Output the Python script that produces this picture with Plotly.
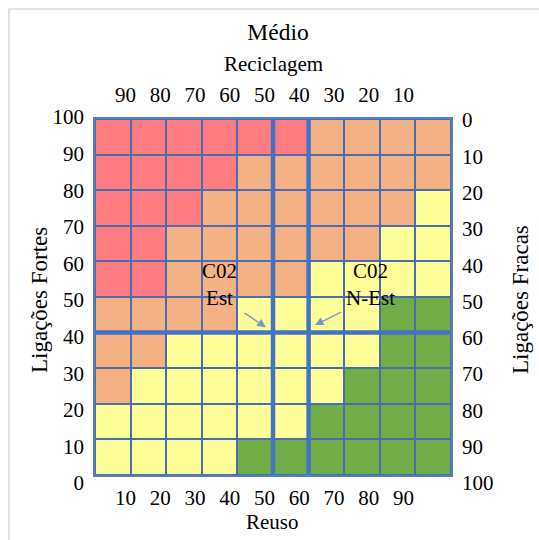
import plotly.graph_objects as go

# --- dados -----------------------------------------------------------------
# faixas de 10 em 10 (centros das células)
reuso_centros = [5, 15, 25, 35, 45, 55, 65, 75, 85, 95]
fortes_centros = [5, 15, 25, 35, 45, 55, 65, 75, 85, 95]

# rótulos dos eixos
reuso_ticks = [10, 20, 30, 40, 50, 60, 70, 80, 90]
reciclagem_ticks = [90, 80, 70, 60, 50, 40, 30, 20, 10]
fortes_ticks = [0, 10, 20, 30, 40, 50, 60, 70, 80, 90, 100]
fracas_ticks = [100, 90, 80, 70, 60, 50, 40, 30, 20, 10, 0]

# classes: V = vermelho, L = laranja, A = amarelo, G = verde
# linhas de cima (90-100) para baixo (0-10)
classes = [
    "VVVVVVLLLL",
    "VVVVLLLLLL",
    "VVVLLLLLLA",
    "VVLLLLLLAA",
    "VVLLLLAAAA",
    "LLLLAAAAGG",
    "LLAAAAAAGG",
    "LAAAAAAGGG",
    "AAAAAAGGGG",
    "AAAAGGGGGG",
]

# limites destacados
limites_reuso = [50, 60]
limites_fortes = [40]

# cenários marcados
cenarios = ["C02<br>Est", "C02<br>N-Est"]
cenario_pontas = [(48.0, 41.5), (61.8, 42.1)]
cenario_caudas = [(41.6, 45.8), (69.6, 46.0)]
cenario_textos = [(35.1, 53.5), (77.5, 53.5)]

# --- estilo ----------------------------------------------------------------
codigo = {"V": 0, "L": 1, "A": 2, "G": 3}
cores = ["#FF7C80", "#F4B183", "#FFFF99", "#70AD47"]
COR_GRADE = "#4A6CB3"
FONTE = "Liberation Serif, Times New Roman, serif"
W, H = 539, 540
# área de papel: rótulos verticais ocupam 117..483 px
ML, MR, MT, MB = 95, 88, 117, 57
PW, PH = W - ML - MR, H - MT - MB
# grade principal: 119..475 px na vertical
GRADE_TOPO, GRADE_BASE = 119, 475
dom_y = [(H - MB - GRADE_BASE) / PH, (H - MB - GRADE_TOPO) / PH]


def px(xp):
    return (xp - ML) / PW


def py(yp):
    return (H - MB - yp) / PH


z = [[codigo[c] for c in linha] for linha in reversed(classes)]
escala = [[i / (len(cores) - 1), c] for i, c in enumerate(cores)]

fig = go.Figure()
fig.add_trace(go.Heatmap(
    x=reuso_centros, y=fortes_centros, z=z,
    zmin=0, zmax=3, colorscale=escala, showscale=False,
    xgap=2, ygap=2, hoverinfo="skip",
))

# eixos de rótulos (traços invisíveis para ativá-los)
invis = dict(mode="markers", marker=dict(opacity=0), hoverinfo="skip", showlegend=False)
fig.add_trace(go.Scatter(x=reuso_ticks, y=[50] * len(reuso_ticks), xaxis="x2", yaxis="y", **invis))
fig.add_trace(go.Scatter(x=reciclagem_ticks, y=[50] * len(reciclagem_ticks), xaxis="x3", yaxis="y", **invis))
fig.add_trace(go.Scatter(x=[50] * len(fortes_ticks), y=fortes_ticks, xaxis="x", yaxis="y2", **invis))
fig.add_trace(go.Scatter(x=[50] * len(fracas_ticks), y=fracas_ticks, xaxis="x", yaxis="y3", **invis))

# fundo da grade (aparece nos espaços entre as células)
fig.add_shape(type="rect", xref="x domain", yref="y domain", x0=0, x1=1, y0=0, y1=1,
              line=dict(width=0), fillcolor=COR_GRADE, layer="below")

for xv in limites_reuso:
    fig.add_shape(type="line", xref="x", yref="y", x0=xv, x1=xv, y0=0, y1=100,
                  line=dict(color="#4472C4", width=4.5))
for yv in limites_fortes:
    fig.add_shape(type="line", xref="x", yref="y", x0=0, x1=100, y0=yv, y1=yv,
                  line=dict(color="#4472C4", width=4.5))

# moldura externa
fig.add_shape(type="rect", xref="paper", yref="paper",
              x0=px(9), x1=px(560), y0=py(560), y1=py(9),
              line=dict(color="#C3CCDA", width=1.2), fillcolor="rgba(0,0,0,0)", layer="below")

for texto, (tx, ty) in zip(cenarios, cenario_textos):
    fig.add_annotation(x=tx, y=ty, xref="x", yref="y", text=texto, showarrow=False,
                       font=dict(family=FONTE, size=21, color="black"))
for (hx, hy), (cx, cy) in zip(cenario_pontas, cenario_caudas):
    fig.add_annotation(x=hx, y=hy, ax=cx, ay=cy, xref="x", yref="y", axref="x", ayref="y",
                       text="", showarrow=True, arrowhead=2, arrowsize=1.3,
                       arrowwidth=1.3, arrowcolor="#6F95D8")

tfont = dict(family=FONTE, size=21, color="black")
vfont = dict(family=FONTE, size=23, color="black")
fig.add_annotation(text="Reciclagem", xref="paper", yref="paper", x=px(273), y=py(64),
                   showarrow=False, font=tfont, xanchor="center", yanchor="middle")
fig.add_annotation(text="Reuso", xref="paper", yref="paper", x=px(272), y=py(522),
                   showarrow=False, font=tfont, xanchor="center", yanchor="middle")
fig.add_annotation(text="Ligações Fortes", xref="paper", yref="paper", x=px(39), y=py(300),
                   showarrow=False, font=vfont, textangle=-90, xanchor="center", yanchor="middle")
fig.add_annotation(text="Ligações Fracas", xref="paper", yref="paper", x=px(520), y=py(300),
                   showarrow=False, font=vfont, textangle=-90, xanchor="center", yanchor="middle")

base = dict(showgrid=False, zeroline=False, fixedrange=True)
rot = dict(base, showline=False, ticks="", tickfont=tfont, tickmode="array")

fig.update_layout(
    width=W, height=H,
    margin=dict(l=ML, r=MR, t=MT, b=MB, pad=0),
    paper_bgcolor="white", plot_bgcolor="rgba(0,0,0,0)",
    showlegend=False,
    title=dict(text="Médio", x=px(278), xref="paper", xanchor="center",
               y=1 - 32 / H, yanchor="middle", font=dict(family=FONTE, size=23.5, color="black")),
    xaxis=dict(base, range=[0, 100], showticklabels=False, showline=True, mirror=True,
               linecolor="#5A7BBE", linewidth=1.5, anchor="y"),
    yaxis=dict(base, range=[0, 100], domain=dom_y, showticklabels=False, showline=True,
               mirror=True, linecolor="#5A7BBE", linewidth=1.5),
    xaxis2=dict(rot, overlaying="x", side="bottom", anchor="y", range=[1.22, 103.66],
                tickvals=reuso_ticks, ticktext=[str(v) for v in reuso_ticks], ticklabelstandoff=8),
    xaxis3=dict(rot, overlaying="x", side="top", anchor="y", range=[98.78, -3.66],
                tickvals=reciclagem_ticks, ticktext=[str(v) for v in reciclagem_ticks], ticklabelstandoff=12),
    yaxis2=dict(rot, side="left", anchor="x", domain=[0, 1], range=[0, 100],
                tickvals=fortes_ticks, ticktext=[str(v) for v in fortes_ticks], ticklabelstandoff=10),
    yaxis3=dict(rot, side="right", anchor="x", domain=[0, 1], range=[100, -0.83],
                tickvals=fracas_ticks, ticktext=[str(v) for v in fracas_ticks], ticklabelstandoff=10),
)

fig.write_html("out.html")
